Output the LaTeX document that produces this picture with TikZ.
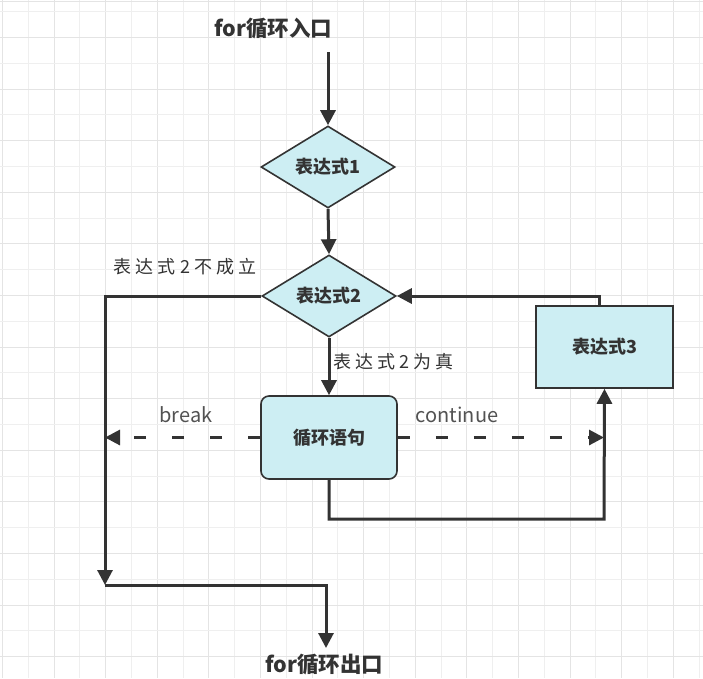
\documentclass[tikz,border=0pt]{standalone}
\usepackage{fontspec}
\usetikzlibrary{shapes.geometric,arrows.meta}
\newfontfamily\cjk{Noto Sans CJK SC}
\newfontfamily\cjkspaced[LetterSpace=23]{Noto Sans CJK SC}
\definecolor{ink}{HTML}{333333}
\definecolor{cyanfill}{HTML}{CDEEF3}
\definecolor{gridA}{HTML}{E4E4E4}
\definecolor{gridB}{HTML}{EFEFEF}
\tikzset{
  flow/.style={draw=ink, line width=3pt, -{Triangle[width=15pt,length=15pt]}},
  dashflow/.style={draw=ink, line width=3pt, dash pattern=on 12pt off 26pt, -{Triangle[width=15pt,length=15pt]}},
  decision/.style={diamond, draw=ink, line width=1.6pt, fill=cyanfill, aspect=1.65, inner sep=0pt,
    minimum width=134pt, minimum height=82pt, font=\cjk\bfseries\fontsize{18}{20}\selectfont, text=ink},
  procbox/.style={rectangle, draw=ink, line width=1.6pt, fill=cyanfill, inner sep=0pt,
    minimum width=136pt, minimum height=83pt, font=\cjk\bfseries\fontsize{18}{20}\selectfont, text=ink},
  title/.style={font=\cjk\bfseries\fontsize{21.5}{24}\selectfont, text=ink, inner sep=0pt},
  cnlabel/.style={font=\cjkspaced\fontsize{18}{20}\selectfont, text=ink, inner sep=0pt},
  enlabel/.style={font=\cjk\fontsize{20}{22}\selectfont, text=ink!85, inner sep=0pt},
}
\begin{document}
\begin{tikzpicture}[x=1pt,y=-1pt]
\useasboundingbox (0,0) rectangle (703,678);
\fill[white] (0,0) rectangle (703,678);
% grid
\foreach \i in {0,...,27} {
  \pgfmathsetmacro{\gx}{2.3+25.8*\i}
  \pgfmathtruncatemacro{\odd}{mod(\i,2)}
  \ifnum\odd=0 \draw[gridA, line width=0.8pt] (\gx,0) -- (\gx,678);
  \else \draw[gridB, line width=0.8pt] (\gx,0) -- (\gx,678); \fi
}
\foreach \j in {0,...,26} {
  \pgfmathsetmacro{\gy}{11.5+25.8*\j}
  \pgfmathtruncatemacro{\odd}{mod(\j,2)}
  \ifnum\odd=1 \draw[gridA, line width=0.8pt] (0,\gy) -- (703,\gy);
  \else \draw[gridB, line width=0.8pt] (0,\gy) -- (703,\gy); \fi
}
\draw[gridA, line width=0.8pt] (0,1) -- (703,1);

% nodes
\node[title] (entry) at (273,28) {for循环入口};
\node[title] (exit) at (324,665) {for循环出口};
\node[decision] (d1) at (328,167) {表达式1};
\node[decision] (d2) at (329,296) {表达式2};
\node[procbox, rounded corners=8pt] (body) at (329,437.5) {循环语句};
\node[procbox, minimum width=137pt, minimum height=82pt] (e3) at (604.5,347) {表达式3};

\coordinate (in1) at (328,52);
\coordinate (lcorner) at (105,585);
\coordinate (outend) at (326,648);
\coordinate (botR) at (604,519);
\coordinate (e3top) at (599,306);

\node[cnlabel, anchor=center] (lfalse) at (185,267) {表达式2不成立};
\node[cnlabel, anchor=west] (ltrue) at (333,362) {表达式2为真};
\node[enlabel] (lbreak) at (186,415) {break};
\node[enlabel] (lcont) at (457,415) {continue};

% connectors
\draw[flow] (in1) -- (d1.north);
\draw[flow] (d1.south) -- (d2.north);
\draw[flow] (d2.south) -- (body.north);
\draw[flow] (d2.west) -| (lcorner);
\draw[flow] (lcorner) -| (outend);
\draw[dashflow] (body.west) -- (105,437.5);
\draw[dashflow] (body.east) -- (604,437.5);
\draw[flow] (body.south) |- (botR) -- (e3.south);
\draw[flow] (e3top) |- (d2.east);
\end{tikzpicture}
\end{document}
